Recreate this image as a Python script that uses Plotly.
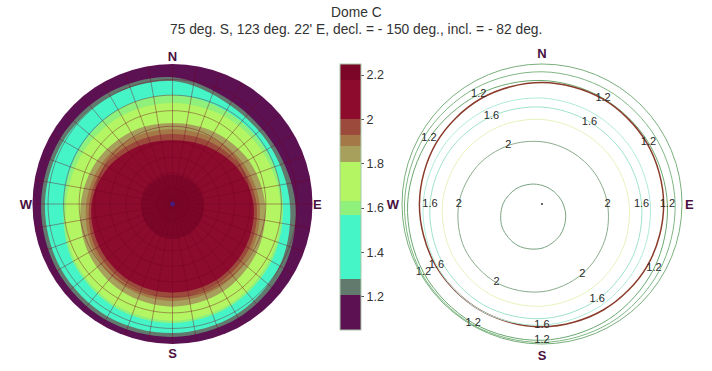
import plotly.graph_objects as go

# azimuth directions (deg, N=0, clockwise) used by every radius table below
azimuths = [0, 30, 60, 90, 120, 150, 180, 210, 240, 270, 300, 330]

# colour bands of the left map (value edges) and their colours
band_edges = [1.05, 1.21, 1.28, 1.57, 1.63, 1.81, 1.88, 1.93, 2.0, 2.18, 2.25]
band_colors = ['#5c1152', '#627a6e', '#45f5c8', '#8ff07c', '#b3f562',
               '#a6a05c', '#a57848', '#9c4a3c', '#8d0b2d', '#7c0628']

# zenith angle (deg) where the value drops below each band edge, per azimuth
band_radius = {
    1.21: [81.5, 76.0, 75.5, 79.0, 82.5, 84.5, 85.5, 86.0, 85.5, 84.5, 83.5, 82.5],
    1.28: [79.0, 73.5, 73.0, 75.5, 79.5, 82.0, 83.0, 83.5, 83.0, 82.0, 81.0, 80.0],
    1.57: [70.0, 69.0, 69.5, 71.0, 73.5, 75.5, 76.5, 76.0, 74.0, 70.0, 69.5, 70.0],
    1.63: [65.0, 65.5, 67.0, 69.5, 72.0, 74.0, 75.0, 74.5, 72.5, 68.5, 66.5, 65.5],
    1.81: [52.0, 53.5, 56.5, 59.5, 62.5, 65.0, 66.0, 65.0, 62.5, 59.0, 56.0, 53.5],
    1.88: [48.0, 49.5, 52.5, 56.0, 59.0, 61.5, 62.5, 61.5, 59.0, 55.5, 52.5, 49.5],
    1.93: [45.0, 46.5, 50.0, 54.0, 57.0, 59.0, 60.0, 59.0, 57.0, 53.5, 50.0, 46.5],
    2.0:  [41.0, 43.0, 47.5, 52.0, 54.5, 56.5, 57.0, 56.5, 54.5, 52.0, 47.5, 43.0],
    2.18: [19.0, 19.0, 19.5, 20.0, 21.0, 22.0, 22.5, 22.0, 21.0, 20.0, 19.5, 19.0],
}

# contour lines of the right map
contour_levels = ['1.1', '1.2', '1.4', '1.5', '1.6', '1.8', '2', '2.2']
contour_radius = {
    '1.1': [85.0, 84.5, 84.7, 85.6, 86.8, 88.1, 89.0, 89.5, 89.3, 88.4, 87.2, 85.9],
    '1.2': [79.4, 78.5, 79.0, 80.6, 83.1, 85.6, 87.6, 88.5, 88.0, 86.4, 83.9, 81.4],
    '1.4': [78.1, 78.0, 78.0, 78.2, 78.5, 78.7, 78.9, 79.0, 79.0, 78.8, 78.5, 78.3],
    '1.5': [68.1, 67.0, 67.6, 69.6, 72.5, 75.5, 77.9, 79.0, 78.4, 76.4, 73.5, 70.5],
    '1.6': [62.3, 61.0, 61.7, 64.0, 67.4, 71.0, 73.7, 75.0, 74.3, 72.0, 68.6, 65.0],
    '1.8': [54.3, 53.0, 53.7, 56.0, 59.4, 63.0, 65.7, 67.0, 66.3, 64.0, 60.6, 57.0],
    '2':   [40.0, 38.5, 39.3, 42.1, 46.6, 51.9, 56.4, 58.4, 57.4, 53.5, 48.3, 43.4],
    '2.2': [12.0, 11.0, 11.5, 13.6, 17.6, 23.2, 28.4, 30.9, 29.6, 25.1, 19.4, 14.7],
}
contour_colors = {'1.1': '#7fb783', '1.2': '#6aa870', '1.4': '#8b3b2b', '1.5': '#b0eadb',
                  '1.6': '#9fe2c9', '1.8': '#e4f3bd', '2': '#8aab8c', '2.2': '#7aa382'}
# which azimuth indices carry a label, per level
contour_label_at = {'1.2': [11, 1, 2, 3, 4, 6, 7, 8, 10], '1.5': [6, 8],
                    '1.6': [1, 3, 5, 9, 11], '2': [11, 3, 9, 5, 7]}
contour_label_text = {'1.2': '1.2', '1.5': '1.6', '1.6': '1.6', '2': '2'}

cb_ticks = [1.2, 1.4, 1.6, 1.8, 2.0, 2.2]
cb_ticktext = ['1.2', '1.4', '1.6', '1.8', '2', '2.2']

# graticule of the left map
grid_rings = [10, 20, 30, 40, 50, 60, 70, 80]
grid_spokes = list(range(0, 360, 10))

lo, hi = band_edges[0], band_edges[-1]
cscale = []
for i, c in enumerate(band_colors):
    cscale.append([(band_edges[i] - lo) / (hi - lo), c])
    cscale.append([(band_edges[i + 1] - lo) / (hi - lo), c])

fig = go.Figure()

theta_closed = azimuths + [360]
font_family = 'Liberation Sans, Arial'

# left: filled bands, outer to inner (purple is the polar background)
for i, edge in enumerate(band_edges[1:-1]):
    r = band_radius[edge]
    fig.add_trace(go.Scatterpolar(
        r=r + [r[0]], theta=theta_closed, mode='lines', fill='toself',
        fillcolor=band_colors[i + 1], line=dict(width=0, shape='spline'),
        hoverinfo='skip', showlegend=False, subplot='polar'))

# grid drawn over the bands
grid_col = 'rgba(115,5,35,0.5)'
ring_theta = list(range(0, 361, 3))
for rr in grid_rings:
    fig.add_trace(go.Scatterpolar(
        r=[rr] * len(ring_theta), theta=ring_theta, mode='lines',
        line=dict(color=grid_col, width=0.8), hoverinfo='skip', showlegend=False,
        subplot='polar'))
for t in grid_spokes:
    fig.add_trace(go.Scatterpolar(
        r=[0, 90], theta=[t, t], mode='lines',
        line=dict(color=grid_col, width=0.8), hoverinfo='skip', showlegend=False,
        subplot='polar'))

fig.add_trace(go.Scatterpolar(
    r=[0], theta=[0], mode='markers', marker=dict(size=5, color='#4b1a78'),
    showlegend=False, hoverinfo='skip', subplot='polar'))

# colour bar
fig.add_trace(go.Scatterpolar(
    r=[0, 0], theta=[0, 0], mode='markers',
    marker=dict(size=1, opacity=0, color=[lo, hi], colorscale=cscale, cmin=lo, cmax=hi,
                showscale=True,
                colorbar=dict(x=340 / 712, xanchor='left', y=1 - 197 / 371, yanchor='middle',
                              len=266 / 371, lenmode='fraction', thickness=21,
                              xpad=0, ypad=0, outlinecolor='#a9c9a9', outlinewidth=1,
                              tickvals=cb_ticks, ticktext=cb_ticktext, ticks='outside',
                              ticklen=3, tickcolor='#555',
                              tickfont=dict(family=font_family, size=12.5, color='#333'))),
    showlegend=False, hoverinfo='skip', subplot='polar'))

# right: contour lines
for lev in contour_levels:
    r = contour_radius[lev]
    fig.add_trace(go.Scatterpolar(
        r=r + [r[0]], theta=theta_closed, mode='lines',
        line=dict(color=contour_colors[lev], width=1.5 if lev == '1.4' else 1, shape='spline'),
        hoverinfo='skip', showlegend=False, subplot='polar2'))

for lev, idx in contour_label_at.items():
    fig.add_trace(go.Scatterpolar(
        r=[contour_radius[lev][k] for k in idx], theta=[azimuths[k] for k in idx],
        mode='text', text=[contour_label_text[lev]] * len(idx),
        textfont=dict(family=font_family, size=11, color='#2a2a2a'),
        hoverinfo='skip', showlegend=False, subplot='polar2'))

fig.add_trace(go.Scatterpolar(
    r=[0], theta=[0], mode='markers', marker=dict(size=2, color='#333'),
    showlegend=False, hoverinfo='skip', subplot='polar2'))

ang_vals = [0, 90, 180, 270]
ang_text = ['N', 'E', 'S', 'W']
label_font = dict(family=font_family, size=13, color='#4a1040', weight='bold')

fig.update_layout(
    width=712, height=371,
    margin=dict(l=0, r=0, t=0, b=0),
    paper_bgcolor='white',
    polar=dict(
        domain=dict(x=[32.5 / 712, 312.5 / 712], y=[1 - 344 / 371, 1 - 64 / 371]),
        bgcolor=band_colors[0],
        radialaxis=dict(range=[0, 90], visible=False),
        angularaxis=dict(rotation=90, direction='clockwise', tickvals=ang_vals,
                         ticktext=ang_text, ticks='', showline=False, showgrid=False,
                         tickfont=label_font),
    ),
    polar2=dict(
        domain=dict(x=[402 / 712, 682 / 712], y=[1 - 344 / 371, 1 - 64 / 371]),
        bgcolor='white',
        radialaxis=dict(range=[0, 90], visible=False),
        angularaxis=dict(rotation=90, direction='clockwise', tickvals=ang_vals,
                         ticktext=ang_text, ticks='', showgrid=False,
                         showline=True, linecolor='#79b07c', linewidth=1,
                         tickfont=label_font),
    ),
    annotations=[
        dict(text='Dome C', x=0.5, y=1 - 12.5 / 371, xref='paper', yref='paper',
             showarrow=False, yanchor='middle',
             font=dict(family=font_family, size=13.8, color='#333')),
        dict(text="75 deg. S, 123 deg. 22' E, decl. = - 150 deg., incl. = - 82 deg.",
             x=0.5, y=1 - 29 / 371, xref='paper', yref='paper', showarrow=False,
             yanchor='middle', font=dict(family=font_family, size=13.8, color='#333')),
    ],
)

# the page body has a default 8px margin; drop it so the figure sits at 0,0
fig.write_html("out.html", config={'displayModeBar': False},
               post_script="document.body.style.margin='0px';")
